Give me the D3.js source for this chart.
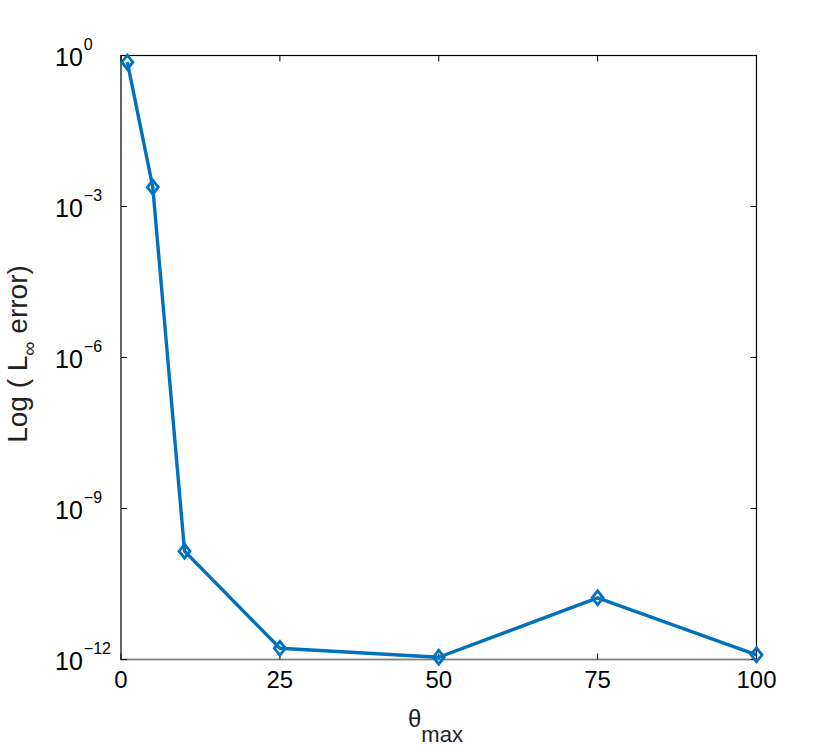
<!DOCTYPE html>
<html><head><meta charset="utf-8">
<script src="https://cdn.jsdelivr.net/npm/d3@7"></script>
<style>body{margin:0;background:#fff;} svg{display:block;font-family:"Liberation Sans",Arial,Helvetica,sans-serif;}</style>
</head><body>
<svg id="c" width="834" height="747"></svg>
<script>
const thetaMax = [1, 5, 10, 25, 50, 75, 100];
const linfError = [0.736, 2.42e-3, 1.42e-10, 1.67e-12, 1.11e-12, 1.68e-11, 1.24e-12];
const xTicks = [0, 25, 50, 75, 100];
const yTickExps = [0, -3, -6, -9, -12];

const svg = d3.select("#c");
const L = 121, R = 756.5, T = 55.5, B = 659.5;
const x = d3.scaleLinear().domain([0, 100]).range([L, R]);
const y = d3.scaleLog().domain([1e-12, 1]).range([B, T]);
const blue = "#0072BD";

// box
svg.append("rect").attr("x", L).attr("y", T).attr("width", R - L).attr("height", B - T)
  .attr("fill", "none").attr("stroke", "#000").attr("stroke-width", 1.2);
// bottom axis line gray
svg.append("line").attr("x1", L).attr("x2", R).attr("y1", B).attr("y2", B)
  .attr("stroke", "#808080").attr("stroke-width", 1.6);

// x ticks (inward, bottom and top)
const xt = svg.append("g");
xTicks.forEach(v => {
  xt.append("line").attr("x1", x(v)).attr("x2", x(v)).attr("y1", B).attr("y2", B - 6).attr("stroke", "#000");
  xt.append("line").attr("x1", x(v)).attr("x2", x(v)).attr("y1", T).attr("y2", T + 6).attr("stroke", "#000");
  xt.append("text").attr("x", x(v)).attr("y", B + 28.5).attr("text-anchor", "middle")
    .attr("font-size", 24).attr("fill", "#000").text(v);
});

// y ticks
const yt = svg.append("g");
yTickExps.forEach(e => {
  const yy = y(Math.pow(10, e));
  yt.append("line").attr("x1", L).attr("x2", L + 6).attr("y1", yy).attr("y2", yy).attr("stroke", "#000");
  yt.append("line").attr("x1", R).attr("x2", R - 6).attr("y1", yy).attr("y2", yy).attr("stroke", "#000");
  const t = yt.append("text").attr("x", 55).attr("y", yy + 10.5).attr("text-anchor", "start")
    .attr("font-size", 25).attr("fill", "#000");
  t.append("tspan").text("10");
  t.append("tspan").attr("dx", 1).attr("dy", -16).attr("font-size", 16).text(e === 0 ? "0" : "\u2212" + (-e));
});

// line
const line = d3.line().x((d, i) => x(thetaMax[i])).y(d => y(d));
svg.append("path").datum(linfError).attr("d", line).attr("fill", "none")
  .attr("stroke", blue).attr("stroke-width", 3.4).attr("stroke-linejoin", "round");

// diamond markers
const diamond = (cx, cy) => `M${cx},${cy - 7}L${cx + 5.5},${cy}L${cx},${cy + 7}L${cx - 5.5},${cy}Z`;
svg.append("g").selectAll("path").data(linfError).join("path")
  .attr("d", (d, i) => diamond(x(thetaMax[i]), y(d)))
  .attr("fill", "none").attr("stroke", blue).attr("stroke-width", 2.8);

// x label
const xl = svg.append("text").attr("x", 408).attr("y", 727).attr("font-size", 24).attr("fill", "#222");
xl.append("tspan").text("\u03B8");
xl.append("tspan").attr("dy", 15).attr("font-size", 22).text("max");

// y label
const yl = svg.append("text").attr("transform", "translate(27,354) rotate(-90)")
  .attr("text-anchor", "middle").attr("font-size", 28).attr("fill", "#222");
yl.append("tspan").text("Log ( L");
yl.append("tspan").attr("dy", 9).attr("font-size", 20).text("\u221E");
yl.append("tspan").attr("dy", -9).text(" error)");
</script>
</body></html>
